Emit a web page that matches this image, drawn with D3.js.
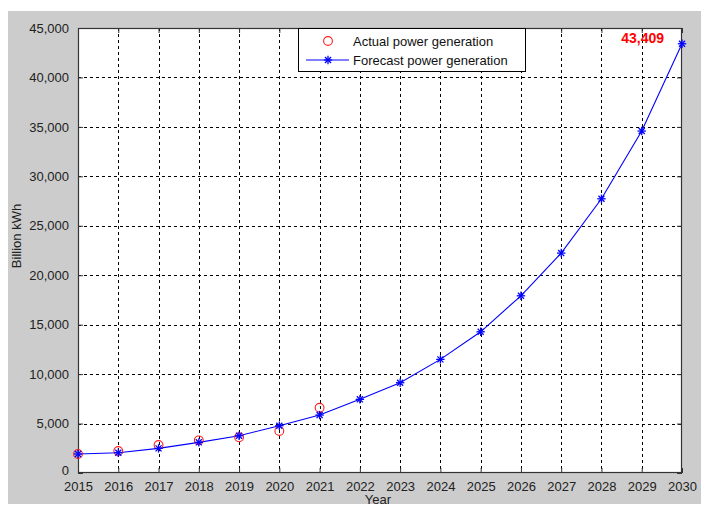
<!DOCTYPE html>
<html>
<head>
<meta charset="utf-8">
<script src="https://cdn.jsdelivr.net/npm/d3@7"></script>
<style>
  html, body { margin: 0; padding: 0; background: #ffffff; }
  svg { display: block; }
  text { font-family: "Liberation Sans", Arial, sans-serif; }
</style>
</head>
<body>
<script>
// Years on the x axis
const years = [2015, 2016, 2017, 2018, 2019, 2020, 2021, 2022, 2023, 2024, 2025, 2026, 2027, 2028, 2029, 2030];
// Forecast generation, billion kWh
const forecast = [1920, 2050, 2490, 3100, 3770, 4780, 5860, 7450, 9130, 11490, 14280, 17920, 22240, 27730, 34580, 43409];
// Observed generation, billion kWh
const actualYears = [2015, 2016, 2017, 2018, 2019, 2020, 2021];
const actual = [1920, 2220, 2830, 3300, 3610, 4250, 6600];
// Y tick values
const yTicks = [0, 5000, 10000, 15000, 20000, 25000, 30000, 35000, 40000, 45000];
const legendLabels = ["Actual power generation", "Forecast power generation"];

const W = 701, H = 509;
const plot = { left: 78, top: 28, right: 682, bottom: 473 };

const svg = d3.select("body").append("svg").attr("width", W).attr("height", H);

// Figure background
svg.append("rect").attr("x", 8).attr("y", 11).attr("width", W - 8).attr("height", 493).attr("fill", "#cccccc");
// Axes background
svg.append("rect").attr("x", plot.left).attr("y", plot.top)
  .attr("width", plot.right - plot.left).attr("height", plot.bottom - plot.top).attr("fill", "#ffffff");

const x = d3.scaleLinear().domain([2015, 2030]).range([plot.left, plot.right]);
const y = d3.scaleLinear().domain([0, 45000]).range([plot.bottom, plot.top]);

const fmt = d3.format(",");

// Grid lines
const grid = svg.append("g").attr("stroke", "#000").attr("stroke-width", 1).attr("stroke-dasharray", "3,3").attr("shape-rendering", "crispEdges");
years.slice(1, -1).forEach(v => {
  grid.append("line").attr("x1", Math.round(x(v)) + 0.5).attr("x2", Math.round(x(v)) + 0.5)
    .attr("y1", plot.top).attr("y2", plot.bottom);
});
yTicks.slice(1, -1).forEach(v => {
  grid.append("line").attr("y1", Math.round(y(v)) + 0.5).attr("y2", Math.round(y(v)) + 0.5)
    .attr("x1", plot.left).attr("x2", plot.right);
});

// Axes
const xAxis = d3.axisBottom(x).tickValues(years).tickFormat(d3.format("d")).tickSizeInner(-5).tickSizeOuter(0).tickPadding(9);
const yAxis = d3.axisLeft(y).tickValues(yTicks).tickFormat(fmt).tickSizeInner(-5).tickSizeOuter(0).tickPadding(9);

const gx = svg.append("g").attr("transform", `translate(0,${plot.bottom})`).call(xAxis);
const gy = svg.append("g").attr("transform", `translate(${plot.left},0)`).call(yAxis);
[gx, gy].forEach(g => {
  g.select(".domain").remove();
  g.selectAll("line").attr("stroke", "#333");
  g.selectAll("text").attr("font-size", 13).attr("fill", "#222").attr("font-family", "Liberation Sans, Arial, sans-serif");
});
// Lift the zero label clear of the first year label
gy.selectAll(".tick").filter(d => d === 0).select("text").attr("y", -3);

// Top/right ticks
svg.append("g").attr("transform", `translate(0,${plot.top})`)
  .call(d3.axisTop(x).tickValues(years).tickFormat("").tickSizeInner(-5).tickSizeOuter(0))
  .call(g => { g.select(".domain").remove(); g.selectAll("line").attr("stroke", "#333"); });
svg.append("g").attr("transform", `translate(${plot.right},0)`)
  .call(d3.axisRight(y).tickValues(yTicks).tickFormat("").tickSizeInner(-5).tickSizeOuter(0))
  .call(g => { g.select(".domain").remove(); g.selectAll("line").attr("stroke", "#333"); });

// Box
svg.append("rect").attr("x", plot.left + 0.5).attr("y", plot.top + 0.5)
  .attr("width", plot.right - plot.left - 1).attr("height", plot.bottom - plot.top - 1)
  .attr("fill", "none").attr("stroke", "#333").attr("stroke-width", 1.2);

// Forecast line
const line = d3.line().x((d, i) => x(years[i])).y(d => y(d));
svg.append("path").datum(forecast).attr("d", line).attr("fill", "none").attr("stroke", "#0000ff").attr("stroke-width", 1.1);

// Star marker (plus + cross)
function star(g, cx, cy, r) {
  const s = g.append("g").attr("stroke", "#0000ff").attr("stroke-width", 1.3);
  const d = r * 0.72;
  s.append("line").attr("x1", cx - r).attr("x2", cx + r).attr("y1", cy).attr("y2", cy);
  s.append("line").attr("x1", cx).attr("x2", cx).attr("y1", cy - r).attr("y2", cy + r);
  s.append("line").attr("x1", cx - d).attr("x2", cx + d).attr("y1", cy - d).attr("y2", cy + d);
  s.append("line").attr("x1", cx - d).attr("x2", cx + d).attr("y1", cy + d).attr("y2", cy - d);
}

// Actual markers
svg.append("g").selectAll("circle").data(actual).join("circle")
  .attr("cx", (d, i) => x(actualYears[i])).attr("cy", d => y(d)).attr("r", 4.4)
  .attr("fill", "none").attr("stroke", "#ff2020").attr("stroke-width", 1.1);

const stars = svg.append("g");
forecast.forEach((v, i) => star(stars, x(years[i]), y(v), 4.2));

// Final value label
svg.append("text").attr("x", x(2030) - 18).attr("y", y(forecast[forecast.length - 1]) - 1)
  .attr("text-anchor", "end").attr("font-size", 14).attr("font-weight", "bold").attr("fill", "#ff0000")
  .text(fmt(forecast[forecast.length - 1]));

// Axis titles
svg.append("text").attr("x", 378).attr("y", 504).attr("text-anchor", "middle").attr("font-size", 13).attr("fill", "#222").text("Year");
svg.append("text").attr("transform", "translate(21,236) rotate(-90)").attr("text-anchor", "middle")
  .attr("font-size", 13).attr("fill", "#222").text("Billion kWh");

// Legend
const lg = svg.append("g");
lg.append("rect").attr("x", 298.5).attr("y", 28.5).attr("width", 227).attr("height", 43)
  .attr("fill", "#fff").attr("stroke", "#000").attr("stroke-width", 1);
lg.append("circle").attr("cx", 328).attr("cy", 41).attr("r", 4.4).attr("fill", "none").attr("stroke", "#ff2020").attr("stroke-width", 1.1);
lg.append("line").attr("x1", 306).attr("x2", 349).attr("y1", 60).attr("y2", 60).attr("stroke", "#0000ff").attr("stroke-width", 1.1);
star(lg, 328, 60, 4.2);
legendLabels.forEach((t, i) => {
  lg.append("text").attr("x", 353).attr("y", 46 + i * 19).attr("font-size", 13).attr("fill", "#111").text(t);
});
</script>
</body>
</html>
